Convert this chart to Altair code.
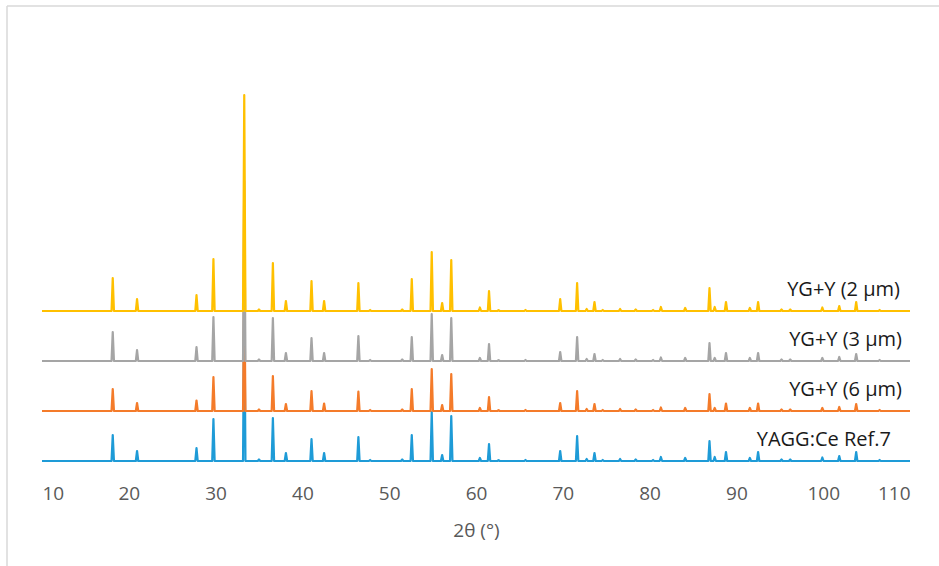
import altair as alt
import pandas as pd

# Peak positions (2θ, degrees)
peak_pos = [18.15, 20.95, 27.8, 29.75, 33.3, 35.0, 36.6, 38.1, 41.05, 42.5,
            46.45, 47.8, 51.5, 52.6, 54.9, 56.1, 57.15, 60.45, 61.5, 62.6,
            65.7, 69.7, 71.65, 72.75, 73.65, 74.6, 76.6, 78.4, 80.4, 81.3,
            84.1, 86.9, 87.5, 88.8, 91.55, 92.5, 95.2, 96.2, 99.9, 101.85,
            103.8, 106.5]

# Peak intensities (arbitrary units) for each pattern
h_yg2 = [33, 12, 16, 52, 216, 1.5, 48, 10, 30, 10,
         28, 1, 1.5, 32, 59, 8, 51, 3.5, 20, 0.8,
         1, 12, 28, 2, 9, 1, 2, 1.5, 1, 4,
         3, 23, 4, 9, 3, 9, 1.5, 1.5, 3.5, 5,
         9, 1]
h_yg3 = [29, 11, 14, 44, 180, 1.5, 43, 8, 23, 8,
         25, 1, 1.5, 24, 47, 6, 43, 3, 17, 0.8,
         1, 9, 24, 2, 7, 1, 2, 1.5, 1, 3.5,
         3, 18, 3, 8, 3, 8, 1.5, 1.5, 3, 4,
         7, 1]
h_yg6 = [22, 8, 10.5, 34, 140, 1.5, 35, 7, 20, 7.5,
         19.5, 1, 1.5, 22, 42, 6, 37, 3, 14, 0.8,
         1, 8, 20, 2, 7, 1, 2, 1.5, 1, 3.5,
         3, 17, 3, 7.5, 3, 7.5, 1.5, 1.5, 3, 4,
         7, 1]
h_ref = [26, 10, 13, 42, 175, 1.5, 43, 8, 22, 8,
         24, 1, 1.5, 26, 49, 6, 45, 3, 17, 0.8,
         1, 10, 25, 2, 8, 1, 2, 1.5, 1, 4,
         3, 20, 4, 9, 3, 9, 1.5, 1.5, 3.5, 5,
         9, 1]

series_names = ["YAGG:Ce Ref.7", "YG+Y (6 μm)", "YG+Y (3 μm)", "YG+Y (2 μm)"]
series_heights = [h_ref, h_yg6, h_yg3, h_yg2]
series_offsets = [0, 50, 100, 150]
series_colors = ["#1E9BD7", "#F47B2A", "#A5A5A5", "#FFC000"]
label_x = [107.8, 109.08, 109.08, 108.85]

X_MIN, X_MAX = 10, 110
HALF_W = 0.14


def pattern_table(heights, offset):
    rows = [{"x": X_MIN, "y": offset}]
    for p, h in zip(peak_pos, heights):
        rows.append({"x": p - HALF_W, "y": offset})
        rows.append({"x": p, "y": offset + h})
        rows.append({"x": p + HALF_W, "y": offset})
    rows.append({"x": X_MAX, "y": offset})
    return pd.DataFrame(rows)


xscale = alt.Scale(domain=[X_MIN, X_MAX], nice=False, zero=False)
yscale = alt.Scale(domain=[-9, 381], nice=False, zero=False)

x_axis = alt.Axis(values=list(range(10, 111, 10)), domain=False, ticks=False, grid=False,
                  labelFontSize=19, labelColor="#595959", labelFont="Open Sans",
                  labelPadding=14, title="2θ (°)", titleFontSize=19,
                  titleFont="Open Sans", titleFontWeight="normal", titleColor="#595959",
                  titlePadding=18)

layers = []
for name, hs, off, col in zip(series_names, series_heights, series_offsets, series_colors):
    df = pattern_table(hs, off)
    layers.append(
        alt.Chart(df).mark_line(color=col, strokeWidth=2.2, strokeJoin="round").encode(
            x=alt.X("x:Q", scale=xscale, axis=x_axis),
            y=alt.Y("y:Q", scale=yscale, axis=None),
        )
    )

labels_df = pd.DataFrame({
    "label": series_names,
    "x": label_x,
    "y": [o + 15.5 for o in series_offsets],
})
labels = alt.Chart(labels_df).mark_text(
    align="right", baseline="alphabetic", font="Open Sans", fontSize=20, color="#1a1a1a"
).encode(
    x=alt.X("x:Q", scale=xscale, axis=x_axis),
    y=alt.Y("y:Q", scale=yscale, axis=None),
    text="label:N",
)

frame_data = alt.Data(values=[{"a": 1}])
border_top = alt.Chart(frame_data).mark_rule(color="#d9d9d9", strokeWidth=1.5).encode(
    x=alt.value(-35), x2=alt.value(900), y=alt.value(-74))
border_left = alt.Chart(frame_data).mark_rule(color="#d9d9d9", strokeWidth=1.5).encode(
    x=alt.value(-35), y=alt.value(-74), y2=alt.value(500))

chart = alt.layer(*layers, labels, border_top, border_left).properties(
    width=868, height=390,
    autosize=alt.AutoSizeParams(type="none"),
    padding={"left": 42, "top": 80, "right": 29, "bottom": 96},
    background="white",
).configure_view(stroke=None)

chart.save("out.html", embed_options={"renderer": "svg", "actions": False})
